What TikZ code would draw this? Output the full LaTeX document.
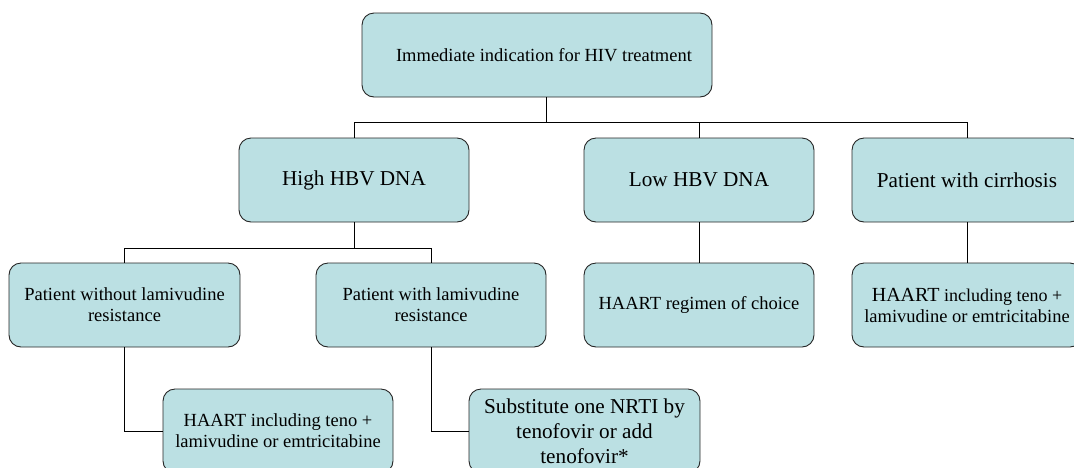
\documentclass[tikz,border=0pt]{standalone}
\usepackage{fontspec}
\setmainfont{Liberation Serif}
\newfontfamily\tms{Liberation Serif}
\definecolor{boxfill}{RGB}{187,224,227}
\begin{document}
\begin{tikzpicture}[x=1pt,y=-1pt,
  box/.style={draw=black!85, fill=boxfill, rounded corners=12pt, line width=0.9pt,
    minimum width=230pt, minimum height=84pt, align=center, inner sep=2pt,
    font=\tms\fontsize{18.5}{21}\selectfont},
  big/.style={font=\tms\fontsize{21.2}{25}\selectfont},
  conn/.style={draw=black, line width=1pt}]
\useasboundingbox (0,0) rectangle (1074,467);
\begin{scope}
\clip (0,0) rectangle (1074,467);
\node[box, minimum width=350pt] (top) at (537,55) {\hspace*{14pt}Immediate indication for HIV treatment};
\node[box, big] (high) at (354,180) {High HBV DNA};
\node[box, big] (low) at (699,180) {Low HBV DNA};
\node[box, big] (cirr) at (967,180) {Patient with cirrhosis};
\node[box, minimum width=231pt] (nolam) at (124.5,305) {Patient without lamivudine\\resistance};
\node[box] (lam) at (431,305) {Patient with lamivudine\\resistance};
\node[box] (regimen) at (699,305) {HAART regimen of choice};
\node[box] (haart2) at (967,305) {{\fontsize{20}{21}\selectfont HAART}{\fontsize{18}{21}\selectfont{} including teno +}\\lamivudine or emtricitabine};
\node[box] (haart1) at (278,431) {HAART including teno +\\lamivudine or emtricitabine};
\node[box, big, minimum width=231pt] (subst) at (584.5,431) {Substitute one NRTI by\\tenofovir or add\\tenofovir*};
\draw[conn] ([xshift=9pt]top.south) -- ++(0,25) -| (high.north);
\draw[conn] ([xshift=9pt]top.south) -- ++(0,25) -| (low.north);
\draw[conn] ([xshift=9pt]top.south) -- ++(0,25) -| (cirr.north);
\draw[conn] (high.south) -- ++(0,26) -| (nolam.north);
\draw[conn] (high.south) -- ++(0,26) -| (lam.north);
\draw[conn] (nolam.south) |- (haart1.west);
\draw[conn] (lam.south) |- (subst.west);
\draw[conn] (low.south) -- (regimen.north);
\draw[conn] (cirr.south) -- (haart2.north);
\end{scope}
\end{tikzpicture}
\end{document}
